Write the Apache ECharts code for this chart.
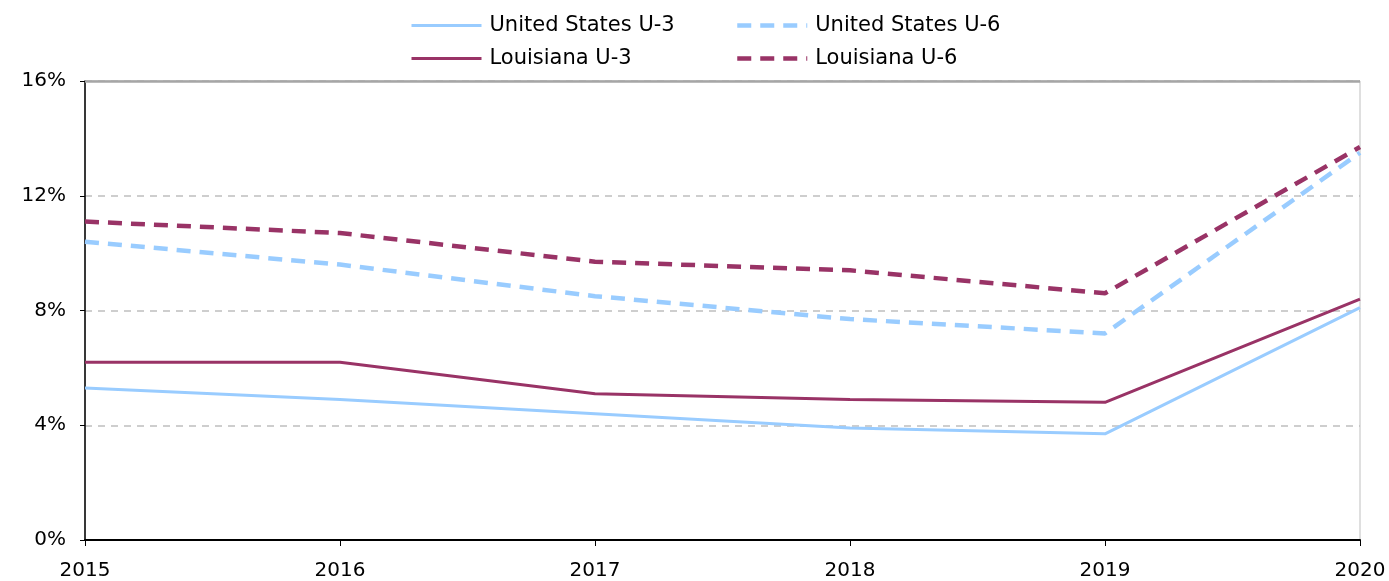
<!DOCTYPE html>
<html>
<head>
<meta charset="utf-8">
<script src="https://cdn.jsdelivr.net/npm/echarts@6/dist/echarts.min.js"></script>
<style>html,body{margin:0;padding:0;background:#fff}#c{width:1389px;height:581px}</style>
</head>
<body>
<div id="c"></div>
<script>
var years = ['2015', '2016', '2017', '2018', '2019', '2020'];
var usU3 = [5.3, 4.9, 4.4, 3.9, 3.7, 8.1];
var usU6 = [10.4, 9.6, 8.5, 7.7, 7.2, 13.5];
var laU3 = [6.2, 6.2, 5.1, 4.9, 4.8, 8.4];
var laU6 = [11.1, 10.7, 9.7, 9.4, 8.6, 13.7];
var yTicks = [0, 4, 8, 12, 16];

var FONT = 'DejaVu Sans, Liberation Sans, sans-serif';
var BLUE = '#99CCFF', MAROON = '#993366';
var chart = echarts.init(document.getElementById('c'), null, {renderer: 'canvas'});

function leg(name, left, top, dashed) {
  return {
    data: [name], left: left, top: top, itemWidth: 70, itemHeight: 14, itemGap: 0,
    padding: 0, itemStyle: {opacity: 0},
    lineStyle: {width: dashed ? 4.5 : 3},
    textStyle: {fontFamily: FONT, fontSize: 21, color: '#000', padding: [0, 0, 0, 3]}
  };
}

chart.setOption({
  animation: false,
  textStyle: {fontFamily: FONT},
  legend: [
    leg('United States U-3', 410, 15, false),
    leg('United States U-6', 735, 15, true),
    leg('Louisiana U-3', 410, 48, false),
    leg('Louisiana U-6', 735, 48, true)
  ],
  grid: {left: 85, right: 29, top: 81, bottom: 40, show: true, borderColor: '#BFBFBF', borderWidth: 1, backgroundColor: 'transparent'},
  xAxis: {
    type: 'category', data: years, boundaryGap: false,
    axisLine: {lineStyle: {color: '#000', width: 2}},
    axisTick: {show: true, length: 6, lineStyle: {color: '#000', width: 1}},
    axisLabel: {fontSize: 20, color: '#000', margin: 21, fontFamily: FONT},
    splitLine: {show: false}
  },
  yAxis: {
    type: 'value', min: yTicks[0], max: yTicks[yTicks.length - 1], interval: 4,
    axisLine: {show: true, lineStyle: {color: '#000', width: 1.5}},
    axisTick: {show: true, length: 5, lineStyle: {color: '#000'}},
    axisLabel: {fontSize: 20, color: '#000', margin: 19, formatter: '{value}%', fontFamily: FONT},
    splitLine: {show: true, lineStyle: {color: '#BFBFBF', type: [7, 6], width: 1.5}}
  },
  series: [
    {name: 'United States U-3', type: 'line', data: usU3, symbol: 'none', color: BLUE,
     lineStyle: {color: BLUE, width: 3}},
    {name: 'United States U-6', type: 'line', data: usU6, symbol: 'none', color: BLUE,
     lineStyle: {color: BLUE, width: 4.5, type: [14, 9]}},
    {name: 'Louisiana U-3', type: 'line', data: laU3, symbol: 'none', color: MAROON,
     lineStyle: {color: MAROON, width: 3}},
    {name: 'Louisiana U-6', type: 'line', data: laU6, symbol: 'none', color: MAROON,
     lineStyle: {color: MAROON, width: 4.5, type: [14, 9]},
     markLine: {silent: true, symbol: 'none', label: {show: false},
       lineStyle: {color: '#A6A6A6', type: 'solid', width: 2.5},
       data: [{yAxis: yTicks[yTicks.length - 1]}]}}
  ]
});
</script>
</body>
</html>
